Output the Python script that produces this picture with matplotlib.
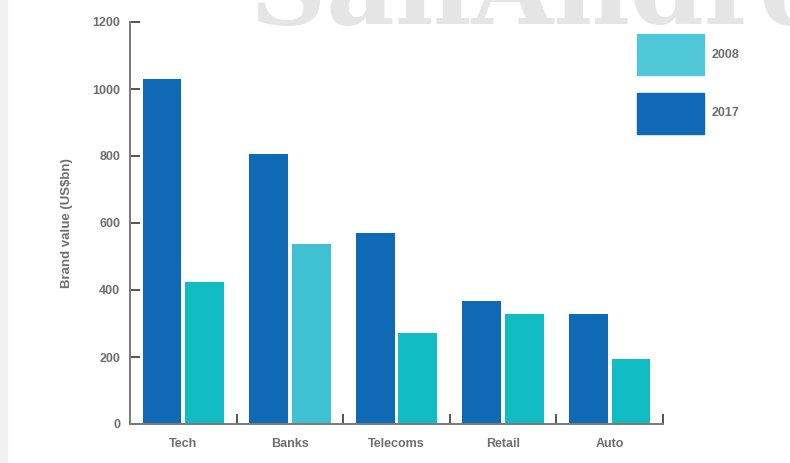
import matplotlib
matplotlib.use('Agg')
import matplotlib.pyplot as plt
from matplotlib.patches import Patch
import numpy as np

# brand value by sector, US$bn
sectors = ['Tech', 'Banks', 'Telecoms', 'Retail', 'Auto']
value_2017 = [1030, 807, 571, 367, 329]
value_2008 = [424, 537, 272, 329, 194]

COL_2017 = '#0F69B4'
COL_2008 = ['#12BCC4', '#3FC1D3', '#12BCC4', '#12BCC4', '#12BCC4']
COL_2008_KEY = '#50C8D8'
GREY = '#6E6E6E'

plt.rcParams['font.family'] = ['Liberation Sans', 'DejaVu Sans']

fig = plt.figure(figsize=(7.9, 4.63), dpi=100)
fig.patch.set_facecolor('white')

# light strip on the left edge
fig.add_artist(plt.Rectangle((0, 0), 7 / 790, 1, transform=fig.transFigure,
                             color='#F0F0F0', zorder=0))

# watermark, cut off at the top
fig.text(250 / 790, 1 - 24 / 463, 'SanAndres', family='DejaVu Serif',
         fontweight='bold', fontsize=76, color='#E5E5E5', ha='left',
         va='baseline', zorder=0)

ax = fig.add_axes([130 / 790, 1 - 424 / 463, (663 - 130) / 790, (424 - 22) / 463])
ax.patch.set_alpha(0)

x = np.arange(len(sectors))
w = 0.365
ax.bar(x - 0.2, value_2017, w, color=COL_2017, zorder=2)
ax.bar(x + 0.2, value_2008, w, color=COL_2008, zorder=2)

ax.set_xlim(-0.5, len(sectors) - 0.5)
ax.set_ylim(0, 1200)
ax.set_yticks(range(0, 1201, 200))

for s in ['top', 'right']:
    ax.spines[s].set_visible(False)
for s in ['left', 'bottom']:
    ax.spines[s].set_color('#7A7A7A')
    ax.spines[s].set_linewidth(1.4)

ax.tick_params(axis='y', direction='in', length=7, width=1.4, color='#555555',
               pad=7, labelsize=9, labelcolor=GREY)
ax.set_xticks(x)
ax.set_xticklabels(sectors)
ax.tick_params(axis='x', length=0, pad=10, labelsize=9, labelcolor=GREY)
ax.set_xticks(np.arange(0.5, len(sectors)), minor=True)
ax.tick_params(axis='x', which='minor', direction='in', length=7, width=1.4,
               color='#555555')
for lab in ax.get_xticklabels() + ax.get_yticklabels():
    lab.set_fontweight('bold')

ax.set_ylabel('Brand value (US$bn)', fontsize=9.5, fontweight='bold', color=GREY,
              labelpad=14)

handles = [Patch(color=COL_2008_KEY, label='2008'),
           Patch(color=COL_2017, label='2017')]
leg = fig.legend(handles=handles, loc='upper left',
                 bbox_to_anchor=(637 / 790, 1 - 34 / 463),
                 bbox_transform=fig.transFigure, frameon=False,
                 fontsize=9, handlelength=5.35, handleheight=4.7,
                 labelspacing=1.4, handletextpad=0.65, borderpad=0,
                 borderaxespad=0)
for t in leg.get_texts():
    t.set_color(GREY)
    t.set_fontweight('bold')

fig.savefig('out.png', dpi=100)
